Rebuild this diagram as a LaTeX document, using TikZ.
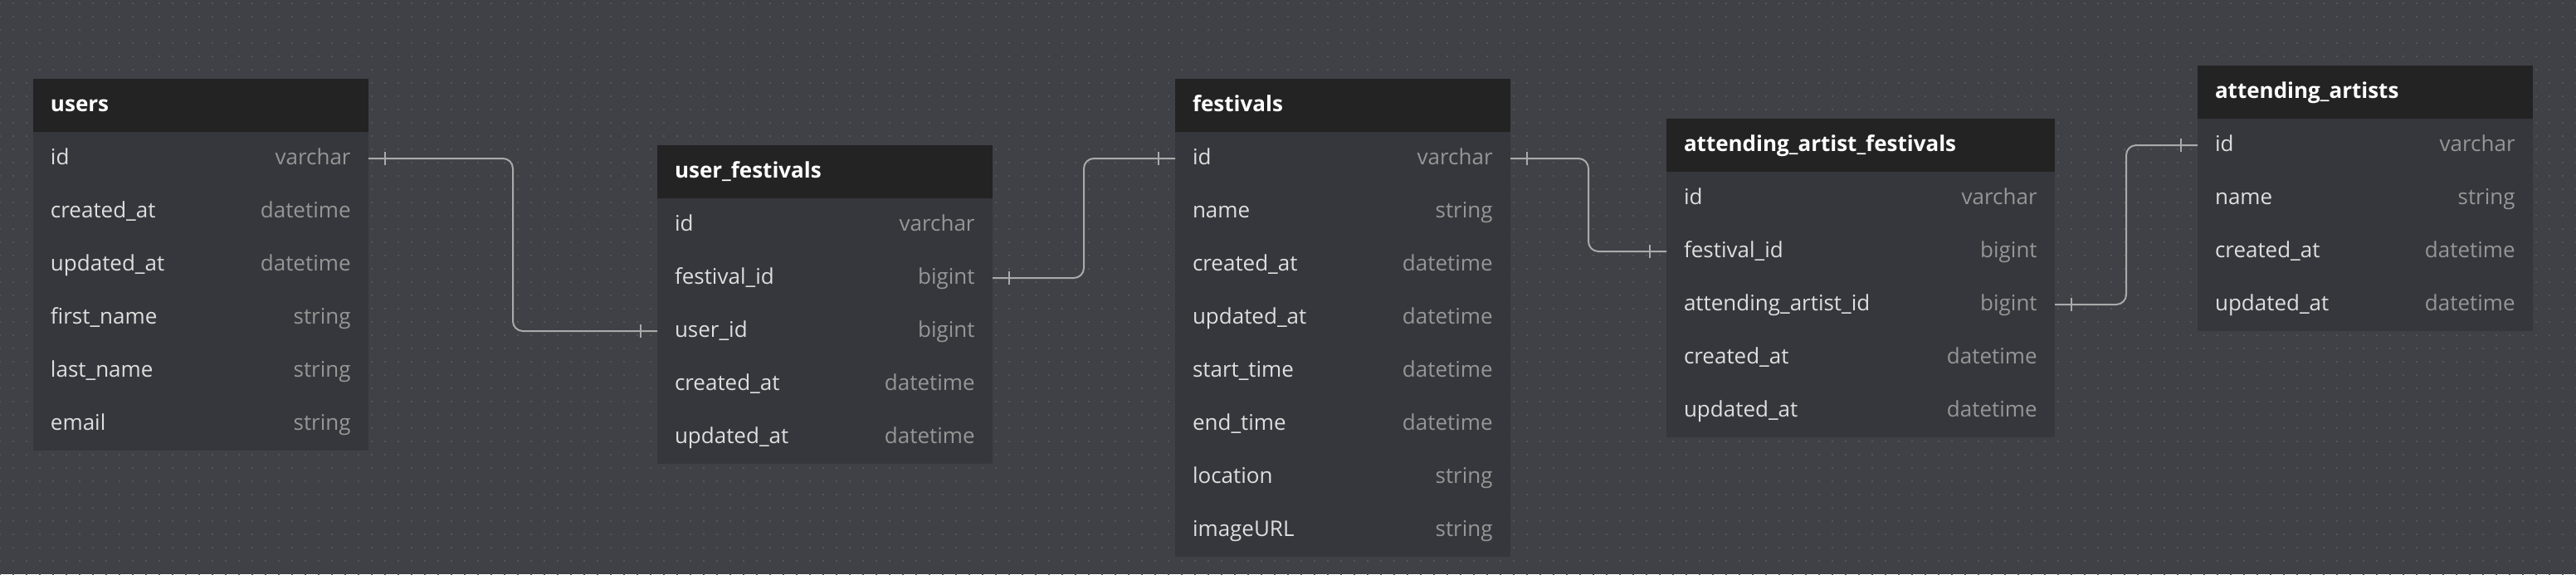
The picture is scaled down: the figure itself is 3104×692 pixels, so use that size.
\documentclass[tikz,border=0pt]{standalone}
\usepackage{fontspec}
\setmainfont{Open Sans}
\usetikzlibrary{calc,patterns}

\definecolor{erdbg}{RGB}{64,65,70}
\definecolor{erddot}{RGB}{84,85,91}
\definecolor{erdhead}{RGB}{35,35,35}
\definecolor{erdbody}{RGB}{54,55,60}
\definecolor{erdfield}{RGB}{222,222,222}
\definecolor{erdtype}{RGB}{150,150,150}
\definecolor{erdline}{RGB}{170,170,170}

\pgfdeclarepatternformonly{erddots}{\pgfqpoint{-1pt}{-1pt}}{\pgfqpoint{1pt}{1pt}}{\pgfqpoint{8pt}{8pt}}{%
  \pgfpathrectangle{\pgfqpoint{-0.6pt}{-0.6pt}}{\pgfqpoint{1.2pt}{1.2pt}}\pgfusepath{fill}}

\tikzset{
  cell/.style={rectangle, anchor=north west, minimum width=202pt, text width=181pt,
    minimum height=32pt, inner xsep=10.5pt, inner ysep=0pt, outer sep=0pt,
    text height=10pt, text depth=3pt, align=left},
  wide/.style={minimum width=234pt, text width=213pt},
  tablehead/.style={cell, fill=erdhead, text=white, font=\bfseries\fontsize{13}{15}\selectfont},
  field/.style={cell, fill=erdbody, text=erdfield, font=\fontsize{13}{15}\selectfont},
  type/.style={anchor=east, xshift=-10.5pt, inner sep=0pt, text=erdtype,
    text height=10pt, text depth=3pt, font=\fontsize{13}{15}\selectfont},
  erdlink/.style={draw=erdline, line width=1pt, rounded corners=6pt},
  erdtick/.style={draw=erdline, line width=1pt}
}

\begin{document}
\begin{tikzpicture}[x=0.5pt,y=-0.5pt]
    \fill[erdbg] (0,0) rectangle (3104,692);
    \fill[pattern=erddots, pattern color=erddot] (0,0) rectangle (3104,692);

    % users
    \node[tablehead] (users) at (40,95) {users};
    \node[field,label={[type]east:varchar}] (users-id) at (40,159) {id};
    \node[field,label={[type]east:datetime}] (users-created) at (40,223) {created\_at};
    \node[field,label={[type]east:datetime}] (users-updated) at (40,287) {updated\_at};
    \node[field,label={[type]east:string}] (users-first) at (40,351) {first\_name};
    \node[field,label={[type]east:string}] (users-last) at (40,415) {last\_name};
    \node[field,label={[type]east:string}] (users-email) at (40,479) {email};

    % user_festivals
    \node[tablehead] (ufest) at (792,175) {user\_festivals};
    \node[field,label={[type]east:varchar}] (ufest-id) at (792,239) {id};
    \node[field,label={[type]east:bigint}] (ufest-festival) at (792,303) {festival\_id};
    \node[field,label={[type]east:bigint}] (ufest-user) at (792,367) {user\_id};
    \node[field,label={[type]east:datetime}] (ufest-created) at (792,431) {created\_at};
    \node[field,label={[type]east:datetime}] (ufest-updated) at (792,495) {updated\_at};

    % festivals
    \node[tablehead] (fest) at (1416,95) {festivals};
    \node[field,label={[type]east:varchar}] (fest-id) at (1416,159) {id};
    \node[field,label={[type]east:string}] (fest-name) at (1416,223) {name};
    \node[field,label={[type]east:datetime}] (fest-created) at (1416,287) {created\_at};
    \node[field,label={[type]east:datetime}] (fest-updated) at (1416,351) {updated\_at};
    \node[field,label={[type]east:datetime}] (fest-start) at (1416,415) {start\_time};
    \node[field,label={[type]east:datetime}] (fest-end) at (1416,479) {end\_time};
    \node[field,label={[type]east:string}] (fest-location) at (1416,543) {location};
    \node[field,label={[type]east:string}] (fest-image) at (1416,607) {imageURL};

    % attending_artist_festivals
    \node[tablehead,wide] (aaf) at (2008,143) {attending\_artist\_festivals};
    \node[field,wide,label={[type]east:varchar}] (aaf-id) at (2008,207) {id};
    \node[field,wide,label={[type]east:bigint}] (aaf-festival) at (2008,271) {festival\_id};
    \node[field,wide,label={[type]east:bigint}] (aaf-artist) at (2008,335) {attending\_artist\_id};
    \node[field,wide,label={[type]east:datetime}] (aaf-created) at (2008,399) {created\_at};
    \node[field,wide,label={[type]east:datetime}] (aaf-updated) at (2008,463) {updated\_at};

    % attending_artists
    \node[tablehead] (artists) at (2648,79) {attending\_artists};
    \node[field,label={[type]east:varchar}] (artists-id) at (2648,143) {id};
    \node[field,label={[type]east:string}] (artists-name) at (2648,207) {name};
    \node[field,label={[type]east:datetime}] (artists-created) at (2648,271) {created\_at};
    \node[field,label={[type]east:datetime}] (artists-updated) at (2648,335) {updated\_at};

    % relations
    \draw[erdlink] (users-id.east) -| ($(users-id.east)!.5!(ufest-user.west)$) |- (ufest-user.west);
    \draw[erdlink] (ufest-festival.east) -| ($(ufest-festival.east)!.5!(fest-id.west)$) |- (fest-id.west);
    \draw[erdlink] (fest-id.east) -| ($(fest-id.east)!.5!(aaf-festival.west)$) |- (aaf-festival.west);
    \draw[erdlink] (aaf-artist.east) -| ($(aaf-artist.east)!.5!(artists-id.west)$) |- (artists-id.west);

    \draw[erdtick] ([xshift=10pt]users-id.east) ++(0,4pt) -- ++(0,-8pt);
    \draw[erdtick] ([xshift=-10pt]ufest-user.west) ++(0,4pt) -- ++(0,-8pt);
    \draw[erdtick] ([xshift=10pt]ufest-festival.east) ++(0,4pt) -- ++(0,-8pt);
    \draw[erdtick] ([xshift=-10pt]fest-id.west) ++(0,4pt) -- ++(0,-8pt);
    \draw[erdtick] ([xshift=10pt]fest-id.east) ++(0,4pt) -- ++(0,-8pt);
    \draw[erdtick] ([xshift=-10pt]aaf-festival.west) ++(0,4pt) -- ++(0,-8pt);
    \draw[erdtick] ([xshift=10pt]aaf-artist.east) ++(0,4pt) -- ++(0,-8pt);
    \draw[erdtick] ([xshift=-10pt]artists-id.west) ++(0,4pt) -- ++(0,-8pt);
  \end{tikzpicture}
\end{document}
